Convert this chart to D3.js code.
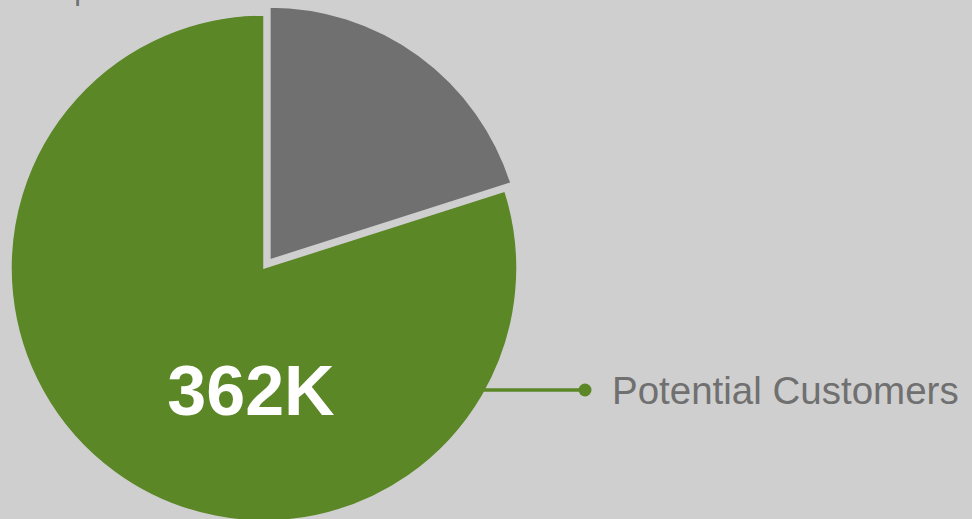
<!DOCTYPE html>
<html>
<head>
<meta charset="utf-8">
<script src="https://cdn.jsdelivr.net/npm/d3@7"></script>
<style>
  html, body { margin: 0; padding: 0; background: #cfcfcf; overflow: hidden; }
  svg { display: block; }
</style>
</head>
<body>
<svg id="chart" width="972" height="519"></svg>
<script>
// Customer split, in thousands
const categories = ["Competitors", "Potential Customers"];
const values = [91, 362];
const valueLabels = ["91K", "362K"];
const colors = ["#707070", "#5b8727"];

const W = 972, H = 519;
const cx = 264, cy = 268, R = 253;
const explode = 10;

const svg = d3.select("#chart");
svg.append("rect").attr("width", W).attr("height", H).attr("fill", "#cfcfcf");

// label of the grey slice sits above the visible area; only a descender shows
svg.append("text")
  .attr("x", 11).attr("y", 0)
  .attr("font-family", "Liberation Sans, Arial, sans-serif")
  .attr("font-size", 30)
  .attr("fill", "#707070")
  .text(categories[0]);

const pie = d3.pie().sort(null).value(d => d)
  .startAngle(0).endAngle(2 * Math.PI);
const arcs = pie(values);
const arc = d3.arc().innerRadius(0).outerRadius(R);

const g = svg.append("g").attr("transform", `translate(${cx},${cy})`);

g.selectAll("path.slice")
  .data(arcs)
  .join("path")
  .attr("class", "slice")
  .attr("d", arc)
  .attr("fill", (d, i) => colors[i])
  .attr("stroke", "#cfcfcf")
  .attr("stroke-width", 1.5)
  .attr("transform", (d, i) => {
    if (i !== 0) return null;
    const mid = (d.startAngle + d.endAngle) / 2;
    return `translate(${explode * Math.sin(mid)},${-explode * Math.cos(mid)})`;
  });

// value label inside the green slice
g.append("text")
  .attr("x", -13).attr("y", 147)
  .attr("text-anchor", "middle")
  .attr("font-family", "Liberation Sans, Arial, sans-serif")
  .attr("font-weight", "bold")
  .attr("font-size", 70)
  .attr("fill", "#ffffff")
  .text(valueLabels[1]);

// leader line to the category label
const ly = 122;
const edgeX = Math.sqrt(R * R - ly * ly);
g.append("line")
  .attr("x1", edgeX - 4).attr("y1", ly)
  .attr("x2", 321).attr("y2", ly)
  .attr("stroke", colors[1]).attr("stroke-width", 3.5);
g.append("circle")
  .attr("cx", 321).attr("cy", ly).attr("r", 6.5)
  .attr("fill", colors[1]);
g.append("text")
  .attr("x", 348).attr("y", ly + 14)
  .attr("font-family", "Liberation Sans, Arial, sans-serif")
  .attr("font-size", 38.5)
  .attr("fill", "#707070")
  .text(categories[1]);
</script>
</body>
</html>
